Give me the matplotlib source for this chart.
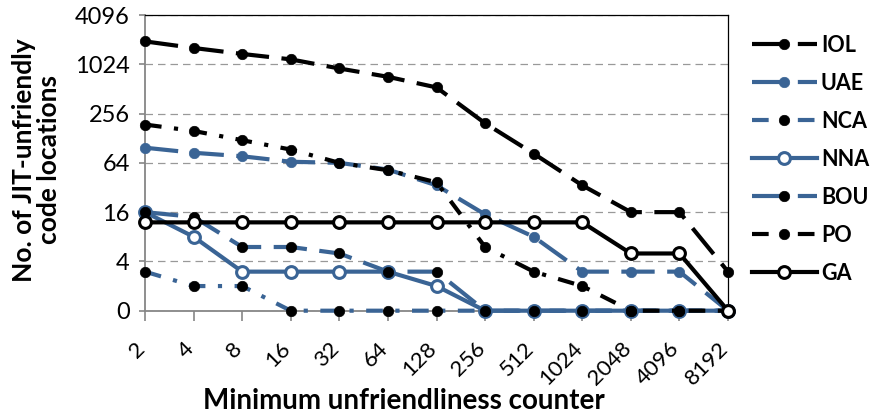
import numpy as np
import matplotlib.pyplot as plt
import matplotlib.transforms as mtransforms

plt.rcParams["font.family"] = ["Lato", "DejaVu Sans"]

# x categories (minimum unfriendliness counter)
counters = ["2", "4", "8", "16", "32", "64", "128", "256", "512", "1024", "2048", "4096", "8192"]

# counts of JIT-unfriendly code locations (0 sits on the axis floor)
iol = [1950, 1620, 1370, 1176, 910, 720, 534, 195, 83, 34, 16, 16, 3]
uae = [98, 85, 77, 66, 64, 53, 34, 15, 8, 3, 3, 3, 0]
nca = [3, 2, 2, 0, 0, 0, 0, 0, 0, 0, 0, 0, 0]
nna = [16, 8, 3, 3, 3, 3, 2, 0, 0, 0, 0, 0, 0]
bou = [16, 14, 6, 6, 5, 3, 3, 0, 0, 0, 0, 0, 0]
po = [188, 157, 121, 93, 64, 52, 37, 6, 3, 2, 0, 0, 0]
ga = [12, 12, 12, 12, 12, 12, 12, 12, 12, 12, 5, 5, 0]

y_ticks = [1, 4, 16, 64, 256, 1024, 4096]
y_ticklabels = ["0", "4", "16", "64", "256", "1024", "4096"]

blue = "#3A6495"
grey_axis = "#868686"

fig = plt.figure(figsize=(8.76, 4.17), dpi=100)
ax = fig.add_axes([145 / 876, 1 - 310.7 / 417, (728 - 145) / 876, (310.7 - 15) / 417])

x = np.arange(len(counters))

# name, values, line colour, dash pattern, marker face, marker edge
styles = [
    ("IOL", iol, "black", (8, 3), "black", "black"),
    ("UAE", uae, blue, (8, 3), blue, blue),
    ("NCA", nca, blue, (4, 3, 1, 3), "black", "black"),
    ("NNA", nna, blue, None, "white", blue),
    ("BOU", bou, blue, (8, 3), "black", "black"),
    ("PO", po, "black", (4, 3, 1, 3), "black", "black"),
    ("GA", ga, "black", None, "white", "black"),
]

handles = []
for name, vals, col, dash, mfc, mec in styles:
    y = np.maximum(np.array(vals, dtype=float), 1)
    open_marker = mfc == "white"
    ls = "-" if dash is None else (0, dash)
    ln, = ax.plot(
        x, y,
        color=col,
        linestyle=ls,
        linewidth=3,
        marker="o",
        markersize=8.5 if open_marker else 7.5,
        markerfacecolor=mfc,
        markeredgecolor=mec,
        markeredgewidth=2.2 if open_marker else 0.5,
        label=name,
        clip_on=False,
        zorder=3,
    )
    handles.append(ln)

ax.set_yscale("log", base=2)
ax.set_ylim(1, 4096)
ax.set_xlim(0, len(counters) - 1)
ax.set_yticks(y_ticks)
ax.set_yticklabels(y_ticklabels)
ax.minorticks_off()
ax.set_xticks(x)
ax.set_xticklabels(counters)

ax.grid(axis="y", color="#999999", linestyle=(0, (6, 4)), linewidth=0.9, zorder=0)
ax.set_axisbelow(True)

for side in ["top", "right"]:
    ax.spines[side].set_color("black")
    ax.spines[side].set_linewidth(0.9)
for side in ["left", "bottom"]:
    ax.spines[side].set_color(grey_axis)
    ax.spines[side].set_linewidth(1.3)

ax.tick_params(axis="y", direction="out", length=4, width=1.2, color=grey_axis,
               labelsize=17, pad=7)
ax.tick_params(axis="x", direction="out", length=7, width=1.2, color=grey_axis,
               labelsize=16, pad=13)

offset = mtransforms.ScaledTranslation(4 / 100, 0, fig.dpi_scale_trans)
for lbl in ax.get_xticklabels():
    lbl.set_rotation(45)
    lbl.set_ha("right")
    lbl.set_va("top")
    lbl.set_transform(lbl.get_transform() + offset)

fig.text(37 / 876, 1 - 160 / 417, "No. of JIT-unfriendly\ncode locations",
         rotation=90, ha="center", va="center", fontsize=19, fontweight="bold",
         linespacing=1.05)
fig.text(404 / 876, 1 - 401 / 417, "Minimum unfriendliness counter",
         ha="center", va="center", fontsize=20, fontweight="bold")

leg = fig.legend(
    handles=handles,
    loc="upper left",
    bbox_to_anchor=(752 / 876, 1 - 34.5 / 417),
    frameon=False,
    fontsize=15.5,
    handlelength=3.0,
    handletextpad=0.2,
    labelspacing=0.79,
    numpoints=1,
    borderaxespad=0,
    borderpad=0,
)
for t in leg.get_texts():
    t.set_fontweight("bold")

fig.savefig("out.png", dpi=100)
